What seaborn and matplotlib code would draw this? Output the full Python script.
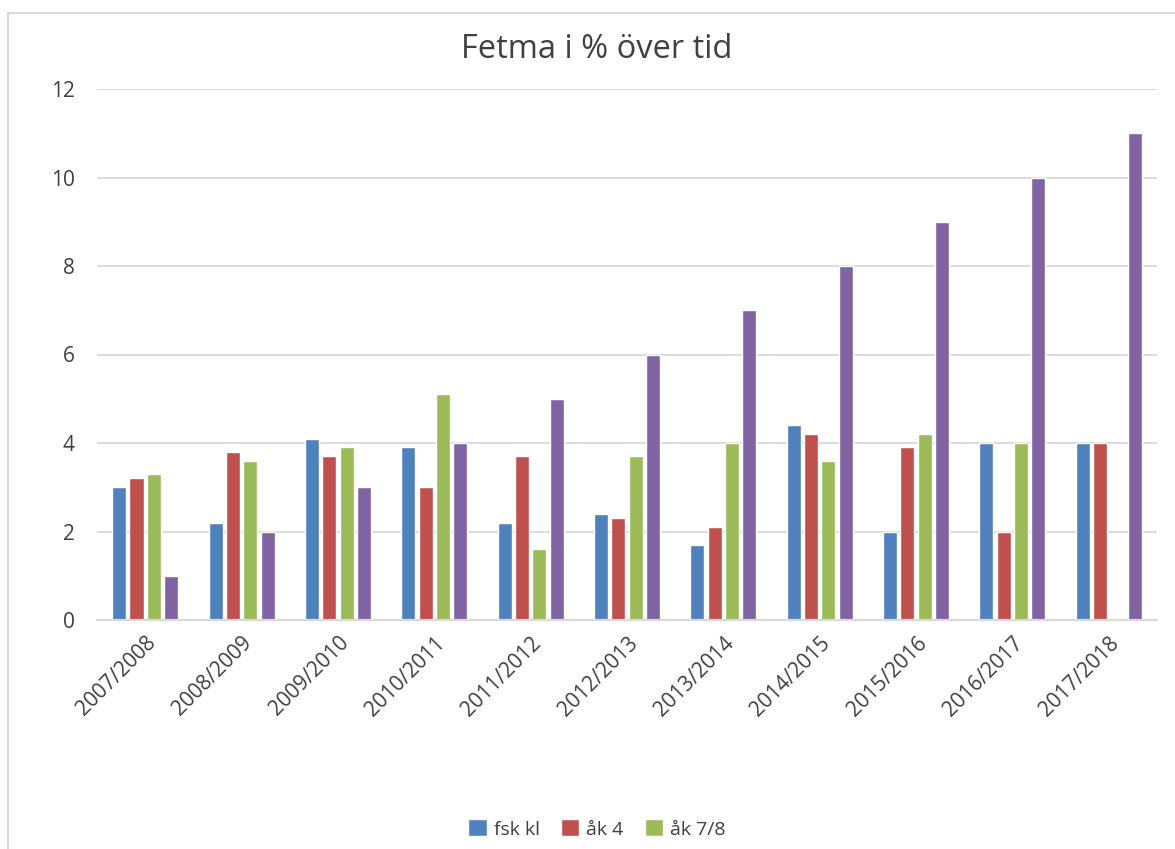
import pandas as pd
import numpy as np
import matplotlib.pyplot as plt
import seaborn as sns
from matplotlib.lines import Line2D
from matplotlib.patches import Rectangle

# Data
periods = ['2007/2008', '2008/2009', '2009/2010', '2010/2011', '2011/2012', '2012/2013',
           '2013/2014', '2014/2015', '2015/2016', '2016/2017', '2017/2018']
fsk_kl = [3.0, 2.2, 4.1, 3.9, 2.2, 2.4, 1.7, 4.4, 2.0, 4.0, 4.0]
ak_4 = [3.2, 3.8, 3.7, 3.0, 3.7, 2.3, 2.1, 4.2, 3.9, 2.0, 4.0]
ak_7_8 = [3.3, 3.6, 3.9, 5.1, 1.6, 3.7, 4.0, 3.6, 4.2, 4.0, np.nan]
serie_4 = [1, 2, 3, 4, 5, 6, 7, 8, 9, 10, 11]

series_names = ['fsk kl', 'åk 4', 'åk 7/8', 'Serie4']
colors = ['#4F81BD', '#C0504D', '#9BBB59', '#8064A2']

# Long format table for seaborn
df = pd.DataFrame({'period': periods, 'fsk kl': fsk_kl, 'åk 4': ak_4,
                   'åk 7/8': ak_7_8, 'Serie4': serie_4})
df = df.melt(id_vars='period', var_name='series', value_name='value')

sns.set_style('white')
plt.rcParams['font.family'] = ['Open Sans', 'DejaVu Sans']
text_color = '#404040'
grid_color = '#d9d9d9'

fig = plt.figure(figsize=(11.75, 8.49), dpi=100)
ax = fig.add_axes([97 / 1175, 1 - 620 / 849, 1060 / 1175, 531 / 849])

sns.barplot(data=df, x='period', y='value', hue='series', hue_order=series_names,
            palette=colors, width=0.72, gap=0.19, errorbar=None, legend=False,
            saturation=1, ax=ax)

ax.set_ylim(0, 12)
ax.set_yticks(range(0, 13, 2))
ax.set_xlim(-0.5, len(periods) - 0.5)
ax.yaxis.grid(True, color=grid_color, linewidth=1.3)
ax.set_axisbelow(True)
for side in ['left', 'right', 'top']:
    ax.spines[side].set_visible(False)
ax.spines['bottom'].set_color(grid_color)
ax.spines['bottom'].set_linewidth(1.6)
ax.set_xlabel('')
ax.set_ylabel('')
ax.tick_params(axis='y', length=0, pad=16, labelsize=15, labelcolor=text_color)
ax.tick_params(axis='x', length=0, pad=9, labelsize=15, labelcolor=text_color)
plt.setp(ax.get_xticklabels(), rotation=45, ha='right', va='top', rotation_mode='anchor')

# Title
fig.text(597 / 1175, 1 - 50 / 849, 'Fetma i % över tid', ha='center', va='center',
         fontsize=23.5, color=text_color)

# Legend (only the first three series are listed)
handles = [Rectangle((0, 0), 1, 1, facecolor=c) for c in colors[:3]]
fig.legend(handles, series_names[:3], loc='center', bbox_to_anchor=(597 / 1175, 1 - 829 / 849),
           ncol=3, frameon=False, fontsize=14, handlelength=0.95, handleheight=0.95,
           handletextpad=0.35, columnspacing=1.1, labelcolor=text_color)

# Chart frame (cut off at the right and bottom)
fig.add_artist(Line2D([8 / 1175, 8 / 1175], [0, 1 - 13 / 849], transform=fig.transFigure,
                      color=grid_color, linewidth=1.5))
fig.add_artist(Line2D([8 / 1175, 1], [1 - 13 / 849, 1 - 13 / 849], transform=fig.transFigure,
                      color=grid_color, linewidth=1.5))

fig.savefig('out.png', dpi=100, facecolor='white')
